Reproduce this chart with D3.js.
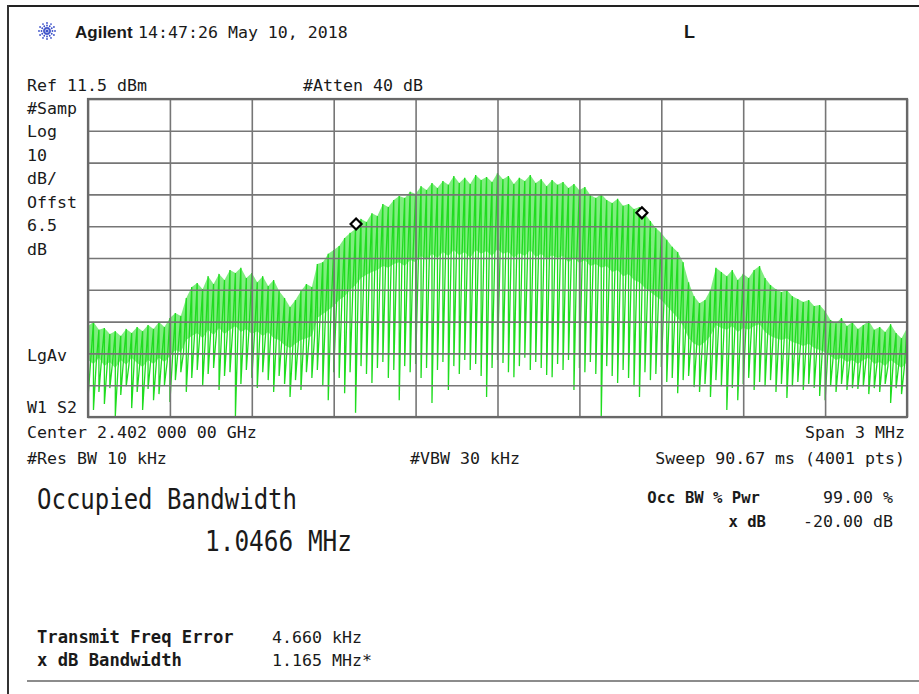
<!DOCTYPE html>
<html><head><meta charset="utf-8">
<script src="https://cdn.jsdelivr.net/npm/d3@7"></script>
<style>
html,body{margin:0;padding:0;background:#fff;}
svg{display:block;}
.mono{font-family:"DejaVu Sans Mono",monospace;fill:#1a1a1a;}
</style></head>
<body><svg id="c" width="919" height="694"></svg>
<script>
// ---- Data ----
const spanStartKHz = -1500, spanEndKHz = 1500, stepKHz = 20;   // offset from 2.402 GHz centre
const refLevel = 11.5, dbPerDiv = 10, divisions = 10;
const xTickKHz = d3.range(-1500, 1501, 300);
const yTickDb = d3.range(-88.5, 11.6, 10);
// upper envelope of trace (dBm), one value per 20 kHz
const topDb = [-59.9,-58.6,-61.1,-60.5,-62.4,-61.5,-63.0,-60.8,-62.1,-60.2,-61.5,-59.6,-60.8,-58.6,-60.2,-57.4,
 -55.8,-56.7,-51.1,-47.6,-46.4,-48.3,-44.2,-46.7,-43.5,-45.4,-42.3,-43.2,-41.6,-44.8,-43.2,-46.1,-44.2,-47.3,-45.4,-48.9,
 -51.1,-53.9,-51.7,-48.9,-46.7,-47.6,-40.4,-39.8,-37.2,-36.0,-34.7,-32.2,-30.6,-29.4,
 -26.2,-27.2,-24.4,-25.3,-21.5,-22.5,-20.3,-19.0,-19.6,-17.7,-18.4,
 -15.9,-17.1,-14.9,-16.5,-14.3,-15.5,-12.7,-14.9,-13.3,-15.2,-12.4,-14.0,-13.0,-14.6,-11.8,-13.7,-12.7,-15.2,-13.3,-14.3,
 -12.4,-14.9,-13.7,-15.9,-14.0,-15.5,-14.6,-16.5,-15.2,-17.1,-16.2,-18.7,-19.6,-18.4,-20.3,-21.2,-19.9,-22.1,-21.5,-23.1,
 -22.5,-24.7,-26.9,-29.1,-30.6,-32.8,-35.0,-36.6,-39.8,
 -46.1,-50.5,-52.7,-51.7,-48.6,
 -41.6,-42.9,-44.2,-42.3,-45.4,-43.5,-44.8,-42.3,-41.0,-44.8,-47.0,-48.3,-49.2,-48.6,-50.5,-51.4,-52.3,-51.7,-53.6,-53.3,-55.2,
 -58.0,-59.0,-57.4,-59.9,-58.6,-60.8,-59.6,-58.3,-61.1,-60.2,-61.8,-59.3,-62.1,-63.7,-60.5];
// lower edge of the dense part of the trace (dBm)
const bandDb = [-70.6,-71.8,-69.9,-72.5,-71.2,-73.1,-70.6,-72.1,-69.9,-71.5,-72.8,-70.6,-71.8,-69.9,-71.2,-69.3,
 -67.4,-68.1,-64.3,-63.0,-62.1,-63.7,-61.1,-62.7,-60.5,-62.4,-61.1,-59.9,-61.8,-60.8,-62.4,-61.5,-63.0,-61.8,-63.7,-64.3,
 -65.9,-66.8,-65.5,-64.3,-63.7,-63.0,-57.4,-56.1,-54.9,-53.6,-51.7,-50.5,-48.6,-47.0,
 -44.8,-43.8,-42.9,-42.3,-41.0,-41.6,-40.4,-39.8,-41.0,-39.1,-39.8,
 -37.9,-39.1,-37.2,-38.5,-36.6,-37.9,-36.0,-37.6,-36.6,-38.5,-36.0,-37.2,-36.3,-37.9,-35.7,-37.2,-36.6,-38.5,-36.9,-37.9,
 -36.0,-38.2,-37.2,-38.8,-37.6,-38.5,-37.9,-39.8,-38.5,-40.1,-39.1,-41.0,-40.4,-41.6,-41.0,-42.9,-42.3,-44.2,-43.5,-45.4,
 -46.1,-47.9,-49.2,-50.5,-51.7,-53.6,-55.5,-57.4,-59.9,
 -63.7,-65.5,-66.2,-64.9,-63.0,
 -59.6,-60.5,-61.1,-59.9,-61.8,-60.5,-61.1,-59.9,-59.3,-61.8,-63.0,-63.7,-64.3,-63.7,-64.9,-65.5,-66.2,-65.5,-66.8,-67.4,-68.1,
 -69.3,-70.6,-69.9,-71.2,-70.6,-71.8,-70.6,-69.9,-71.8,-71.2,-72.5,-70.6,-71.8,-73.1,-71.2];
// deepest point of the downward spikes (dBm)
const lowDb = [-82.5,-86.3,-80.6,-84.4,-79.4,-88.2,-81.6,-78.8,-85.7,-80.6,-86.3,-79.7,-83.2,-81.3,-78.4,-83.8,
 -76.9,-74.4,-80.6,-76.2,-73.7,-78.4,-75.0,-73.1,-80.0,-75.6,-74.4,-88.2,-78.1,-73.7,-76.2,-79.4,-74.4,-76.9,-80.6,-75.6,
 -78.1,-82.2,-76.9,-80.0,-74.4,-76.2,-73.7,-78.4,-83.2,-74.4,-76.2,-81.0,-74.4,-87.2,
 -72.5,-75.0,-77.8,-73.1,-71.2,-76.2,-73.7,-83.2,-72.5,-74.4,-71.8,
 -76.2,-73.1,-84.1,-73.7,-71.2,-80.0,-72.5,-75.0,-70.6,-73.7,-71.8,-75.6,-82.2,-73.1,-70.6,-71.5,-74.4,-76.0,-72.5,-69.9,
 -73.7,-71.2,-73.1,-75.3,-76.0,-71.8,-73.7,-70.6,-80.0,-73.1,-74.4,-71.2,-75.0,-88.5,-72.5,-75.6,-77.8,-73.7,-76.2,-78.8,
 -82.2,-74.4,-76.9,-75.0,-72.8,-77.5,-76.2,-81.0,-76.9,
 -75.6,-79.1,-80.6,-78.1,-82.2,
 -76.9,-78.8,-86.3,-79.4,-83.2,-78.1,-76.2,-80.0,-77.5,-78.8,-76.9,-80.6,-78.1,-82.5,-78.8,-77.5,-80.0,-78.1,-79.4,-81.9,-83.2,
 -78.8,-80.6,-78.1,-80.0,-79.4,-79.7,-78.8,-81.3,-79.4,-80.6,-78.1,-84.1,-79.4,-81.3,-78.8];
// occupied-bandwidth markers
const markerKHz = [-518, 529];
const markerDb = [-27.8, -24.3];

const headerDate = "14:47:26  May 10, 2018";
const leftLabels = ["#Samp","Log","10","dB/","Offst","6.5","dB"];

// ---- Drawing ----
const svg = d3.select("#c");
svg.append("rect").attr("width",919).attr("height",694).attr("fill","#fff");

const plot = {l:88, r:907, t:99, b:417};
const x = d3.scaleLinear().domain([spanStartKHz, spanEndKHz]).range([plot.l, plot.r]);
const y = d3.scaleLinear().domain([refLevel - dbPerDiv*divisions, refLevel]).range([plot.b, plot.t]);

// outer frame
svg.append("line").attr("x1",8).attr("x2",919).attr("y1",6).attr("y2",6).attr("stroke","#222").attr("stroke-width",2);
svg.append("line").attr("x1",8).attr("x2",8).attr("y1",5).attr("y2",694).attr("stroke","#333").attr("stroke-width",2);
svg.append("line").attr("x1",27).attr("x2",919).attr("y1",681).attr("y2",681).attr("stroke","#666").attr("stroke-width",1.5);

// trace
const freqs = topDb.map((d,i)=> spanStartKHz + i*stepKHz);
const pts = [];
freqs.forEach((f,i)=>{
  pts.push([x(f), y(topDb[i])]);
  pts.push([x(f), y(lowDb[i])]);
  if (i < freqs.length-1) pts.push([x(f + stepKHz/2), y(bandDb[i])]);
});
const area = d3.area().x((d,i)=>x(freqs[i])).y0((d,i)=>y(bandDb[i])).y1((d,i)=>y(topDb[i]));
svg.append("path").attr("d", area(topDb)).attr("fill","#22e022").attr("fill-opacity",0.58);
svg.append("path").attr("d", d3.line()(pts)).attr("fill","none").attr("stroke","#1fdc1f").attr("stroke-width",1.3);

// grid (over trace)
const g = svg.append("g");
g.append("g").attr("transform",`translate(0,${plot.b})`)
  .call(d3.axisBottom(x).tickValues(xTickKHz).tickSize(-(plot.b-plot.t)).tickFormat(""))
  .call(s=>{s.select(".domain").remove(); s.selectAll("line").attr("stroke","#767676").attr("stroke-width",1.6);});
g.append("g").attr("transform",`translate(${plot.l},0)`)
  .call(d3.axisLeft(y).tickValues(yTickDb).tickSize(-(plot.r-plot.l)).tickFormat(""))
  .call(s=>{s.select(".domain").remove(); s.selectAll("line").attr("stroke","#767676").attr("stroke-width",1.6);});
svg.append("rect").attr("x",plot.l).attr("y",plot.t).attr("width",plot.r-plot.l).attr("height",plot.b-plot.t)
  .attr("fill","none").attr("stroke","#686868").attr("stroke-width",2.2);

// markers
markerKHz.forEach((f,i)=>{
  const cx = x(f), cy = y(markerDb[i]);
  svg.append("path").attr("d",`M${cx},${cy-5.5}L${cx+5.5},${cy}L${cx},${cy+5.5}L${cx-5.5},${cy}Z`)
    .attr("fill","#fff").attr("stroke","#000").attr("stroke-width",2.2);
});

// logo
const logo = svg.append("g").attr("transform","translate(47,31)");
d3.range(12).forEach(k=>{
  const a = k*Math.PI/6;
  [3,5.5,8].forEach((r,j)=>{
    logo.append("circle").attr("cx",Math.cos(a)*r).attr("cy",Math.sin(a)*r).attr("r",j==0?1.1:0.9).attr("fill","#3a4fc8");
  });
});
logo.append("circle").attr("r",1.6).attr("fill","#3a4fc8");

function txt(s, xx, yy, opts={}) {
  const t = svg.append("text").attr("class","mono").attr("x",xx).attr("y",yy).text(s)
    .attr("font-size", opts.size || 16.6);
  if (opts.anchor) t.attr("text-anchor", opts.anchor);
  if (opts.bold) t.attr("font-weight","bold");
  if (opts.family) t.style("font-family", opts.family);
  return t;
}
txt("Agilent", 75, 38, {family:"'Liberation Sans',Arial,sans-serif", bold:true, size:17});
txt(headerDate, 138, 38);
txt("L", 684, 38, {family:"'Liberation Sans',Arial,sans-serif", bold:true, size:18});
txt("Ref 11.5 dBm", 27, 91);
txt("#Atten 40 dB", 303, 91);
leftLabels.forEach((s,i)=> txt(s, 27, 113.5 + i*23.5));
txt("LgAv", 27, 361);
txt("W1  S2", 27, 413);
txt("Center 2.402 000 00 GHz", 27, 438);
txt("Span 3 MHz", 905, 438, {anchor:"end"});
txt("#Res BW 10 kHz", 27, 464);
txt("#VBW 30 kHz", 410, 464);
txt("Sweep 90.67 ms (4001 pts)", 905, 464, {anchor:"end"});

function bigTxt(s, xx, yy, len){
  svg.append("text").attr("class","mono").attr("transform",`translate(${xx},${yy}) scale(1,1.18)`)
    .attr("font-size",24).attr("textLength",len).attr("lengthAdjust","spacingAndGlyphs").text(s);
}
bigTxt("Occupied Bandwidth", 37, 509, 260);
bigTxt("1.0466 MHz", 205, 551, 147);

txt("Occ BW % Pwr", 760, 503, {bold:true, anchor:"end", size:15.6});
txt("99.00 %", 893, 503, {anchor:"end"});
txt("x dB", 766, 527, {bold:true, anchor:"end", size:15.6});
txt("-20.00 dB", 893, 527, {anchor:"end"});
txt("Transmit Freq Error", 37, 643, {bold:true, size:17.2});
txt("x dB Bandwidth", 37, 666, {bold:true, size:17.2});
txt("4.660 kHz", 272, 643);
txt("1.165 MHz*", 272, 666);
</script></body></html>
